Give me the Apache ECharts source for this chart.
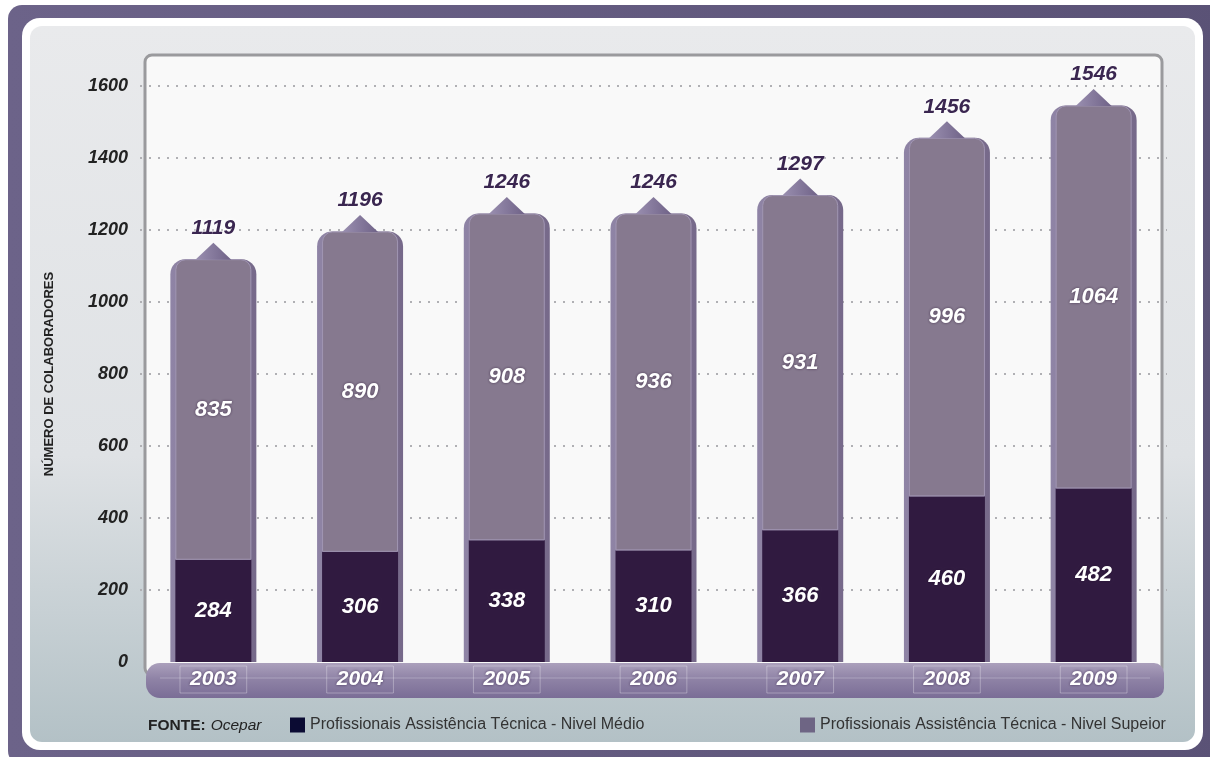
<!DOCTYPE html>
<html>
<head>
<meta charset="utf-8">
<title>Ocepar - Assistência Técnica</title>
<script src="https://cdn.jsdelivr.net/npm/echarts@6/dist/echarts.min.js"></script>
<style>
  html, body { margin: 0; padding: 0; background: #ffffff; }
  #container { width: 1210px; height: 757px; }
</style>
</head>
<body>
<div id="container"></div>
<script>
// data
var anos = ['2003', '2004', '2005', '2006', '2007', '2008', '2009'];
var nivelMedio = [284, 306, 338, 310, 366, 460, 482];
var nivelSuperior = [835, 890, 908, 936, 931, 996, 1064];
var totais = [1119, 1196, 1246, 1246, 1297, 1456, 1546];
var yTicks = [0, 200, 400, 600, 800, 1000, 1200, 1400, 1600];

var nomeMedio = 'Profissionais Assistência Técnica - Nivel Médio';
var nomeSuperior = 'Profissionais Assistência Técnica - Nivel Supeior';
var fonte = 'Liberation Sans, Arial, sans-serif';

var dom = document.getElementById('container');
var myChart = echarts.init(dom, null, { renderer: 'canvas' });

var lbBranco = {
  show: true,
  position: 'inside',
  color: '#ffffff',
  fontFamily: fonte,
  fontSize: 22,
  fontWeight: 'bold',
  fontStyle: 'italic',
  textShadowColor: 'rgba(30,10,40,0.6)',
  textShadowBlur: 3
};

var option = {
  backgroundColor: '#ffffff',
  animation: false,
  graphic: [
    // moldura roxa
    { type: 'rect', z: -30, silent: true, shape: { x: 8, y: 5, width: 1220, height: 760, r: 14 },
      style: { fill: new echarts.graphic.LinearGradient(0, 0, 1, 0, [
        { offset: 0, color: '#6c6389' }, { offset: 1, color: '#5a5276' }]) } },
    // borda branca
    { type: 'rect', z: -29, silent: true, shape: { x: 22, y: 18, width: 1181, height: 732, r: 18 },
      style: { fill: '#ffffff' } },
    // painel cinza
    { type: 'rect', z: -28, silent: true, shape: { x: 30, y: 26, width: 1165, height: 716, r: 12 },
      style: { fill: new echarts.graphic.LinearGradient(0, 0, 0, 1, [
        { offset: 0, color: '#e9eaec' }, { offset: 0.6, color: '#dfe2e5' }, { offset: 1, color: '#b3c1c6' }]) } },
    // area do grafico
    { type: 'rect', z: -27, silent: true, shape: { x: 145, y: 55, width: 1017, height: 620, r: 7 },
      style: { fill: '#f9f9f9', stroke: '#9a9a9d', lineWidth: 3 } },
    // faixa do eixo x
    { type: 'rect', z: -1, silent: true, shape: { x: 146, y: 663, width: 1018, height: 35, r: [14, 10, 10, 14] },
      style: { fill: new echarts.graphic.LinearGradient(0, 0, 0, 1, [
        { offset: 0, color: '#aba0bc' }, { offset: 0.45, color: '#8f83a6' }, { offset: 1, color: '#7a6d96' }]) } },
    { type: 'line', z: -1, silent: true, shape: { x1: 160, y1: 678, x2: 1150, y2: 678 },
      style: { stroke: 'rgba(255,255,255,0.25)', lineWidth: 1 } }
  ],
  title: {
    left: 143,
    top: 712,
    text: '{b|FONTE:} {i|Ocepar}',
    textStyle: {
      fontWeight: 'normal',
      rich: {
        b: { fontFamily: fonte, fontSize: 15.5, fontWeight: 'bold', color: '#222222' },
        i: { fontFamily: fonte, fontSize: 15.5, fontWeight: 'normal', fontStyle: 'italic', color: '#222222' }
      }
    }
  },
  legend: [
    {
      left: 285, top: 712, itemWidth: 15, itemHeight: 15, itemGap: 10,
      icon: 'rect',
      textStyle: { fontFamily: fonte, fontSize: 16, color: '#333333' },
      data: [{ name: nomeMedio, itemStyle: { color: '#0b0b33', borderWidth: 0 } }]
    },
    {
      left: 795, top: 712, itemWidth: 15, itemHeight: 15, itemGap: 10,
      icon: 'rect',
      textStyle: { fontFamily: fonte, fontSize: 16, color: '#333333' },
      data: [{ name: nomeSuperior, itemStyle: { color: '#6e6584', borderWidth: 0 } }]
    }
  ],
  grid: {
    left: 140,
    right: 43,
    top: 86,
    bottom: 95
  },
  xAxis: [
    {
      type: 'category',
      data: anos,
      axisLine: { show: false },
      axisTick: { show: false },
      axisLabel: {
        margin: 4,
        color: '#ffffff',
        fontFamily: fonte,
        fontSize: 21,
        fontWeight: 'bold',
        fontStyle: 'italic',
        padding: [3, 10, 3, 10],
        borderColor: 'rgba(255,255,255,0.3)',
        borderWidth: 1,
        textShadowColor: 'rgba(40,20,60,0.7)',
        textShadowBlur: 3
      }
    },
    {
      type: 'category',
      data: anos,
      show: false
    }
  ],
  yAxis: {
    type: 'value',
    min: yTicks[0],
    max: yTicks[yTicks.length - 1],
    interval: 200,
    name: 'NÚMERO DE COLABORADORES',
    nameLocation: 'middle',
    nameGap: 84,
    nameRotate: 90,
    nameTextStyle: { fontFamily: fonte, fontSize: 13, fontWeight: 'bold', color: '#222222' },
    axisLine: { show: false },
    axisTick: { show: false },
    axisLabel: {
      margin: 12,
      color: '#222222',
      fontFamily: fonte,
      fontSize: 18,
      fontWeight: 'bold',
      fontStyle: 'italic',
      padding: [0, 0, 8, 0],
      formatter: function (v) { return String(v); }
    },
    splitLine: {
      showMinLine: false,
      lineStyle: { color: '#b0b0b4', type: [2, 7], width: 2 }
    }
  },
  series: [
    {
      // moldura das colunas
      name: 'moldura',
      type: 'bar',
      xAxisIndex: 1,
      barWidth: 86,
      z: 1,
      silent: true,
      itemStyle: {
        color: new echarts.graphic.LinearGradient(0, 0, 1, 0, [
          { offset: 0, color: '#8f84a6' }, { offset: 0.5, color: '#857891' }, { offset: 1, color: '#76698a' }]),
        borderRadius: [15, 15, 0, 0]
      },
      data: totais
    },
    {
      name: nomeMedio,
      type: 'bar',
      stack: 'total',
      barWidth: 76,
      z: 3,
      itemStyle: { color: '#301a40' },
      label: lbBranco,
      data: nivelMedio
    },
    {
      name: nomeSuperior,
      type: 'bar',
      stack: 'total',
      barWidth: 76,
      z: 3,
      itemStyle: {
        color: '#86798f',
        borderColor: '#a196b3',
        borderWidth: 1,
        borderRadius: [10, 10, 0, 0]
      },
      label: lbBranco,
      data: nivelSuperior
    },
    {
      // setinha com o total
      name: 'total',
      type: 'scatter',
      xAxisIndex: 1,
      z: 4,
      silent: true,
      symbol: 'triangle',
      symbolSize: [36, 17],
      symbolOffset: [0, -8],
      itemStyle: {
        opacity: 1,
        color: new echarts.graphic.LinearGradient(0, 0, 1, 0, [
          { offset: 0, color: '#9a8fb0' }, { offset: 1, color: '#6f6287' }])
      },
      label: {
        show: true,
        position: 'top',
        distance: 4,
        color: '#3a2650',
        fontFamily: fonte,
        fontSize: 21,
        fontWeight: 'bold',
        fontStyle: 'italic',
        textShadowColor: 'rgba(255,255,255,0.95)',
        textShadowBlur: 4
      },
      data: totais
    }
  ]
};

myChart.setOption(option);
</script>
</body>
</html>
